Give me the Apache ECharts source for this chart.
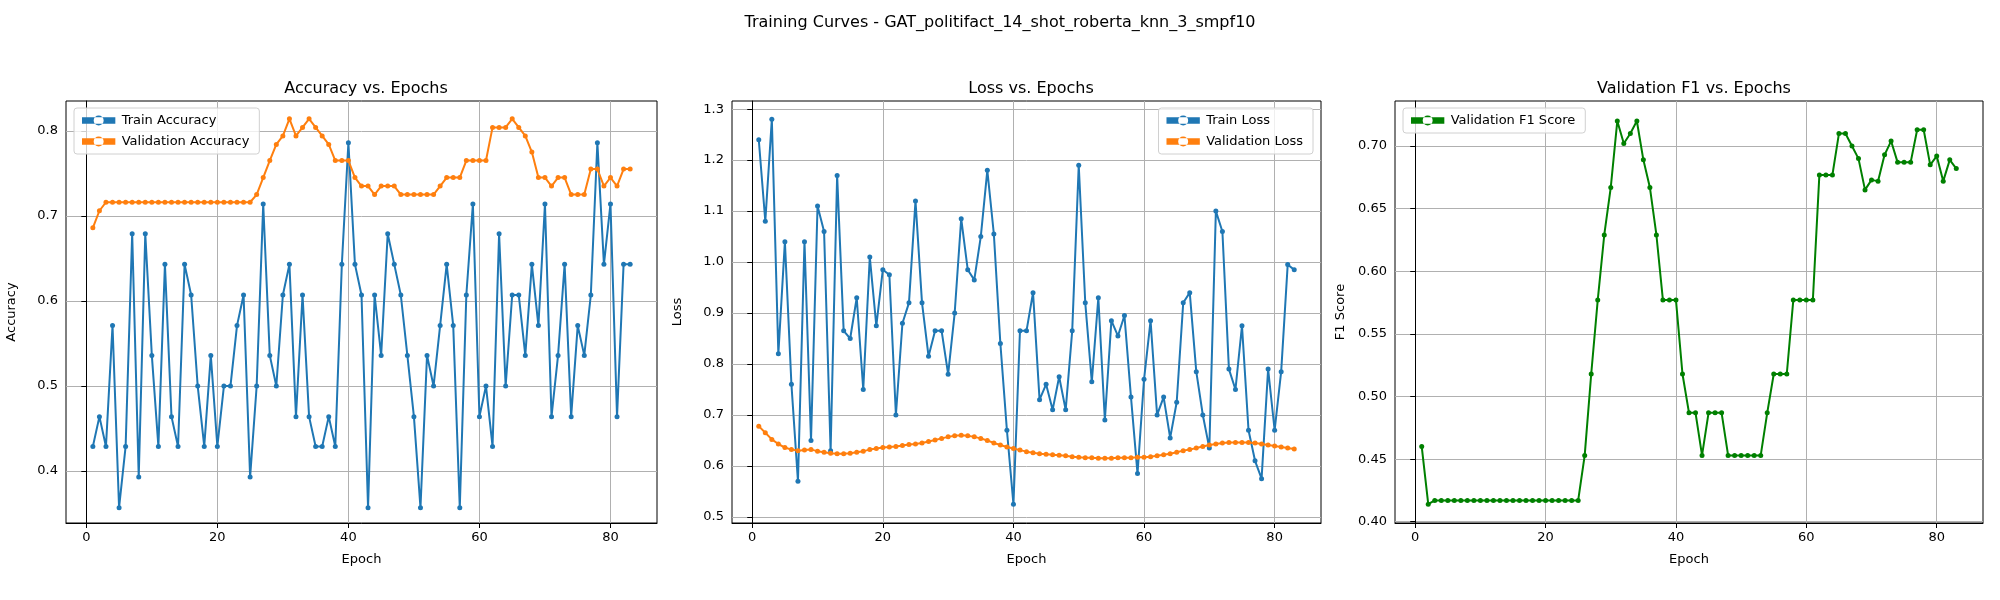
<!DOCTYPE html>
<html>
<head>
<meta charset="utf-8">
<script src="https://cdn.jsdelivr.net/npm/echarts@6/dist/echarts.min.js"></script>
<style>
  html, body { margin: 0; padding: 0; background: #fff; }
  #chart { width: 2000px; height: 600px; }
</style>
</head>
<body>
<div id="chart"></div>
<script>
const trainAcc = [0.429, 0.464, 0.429, 0.571, 0.357, 0.429, 0.679, 0.393, 0.679, 0.536,
  0.429, 0.643, 0.464, 0.429, 0.643, 0.607, 0.5, 0.429, 0.536, 0.429,
  0.5, 0.5, 0.571, 0.607, 0.393, 0.5, 0.714, 0.536, 0.5, 0.607,
  0.643, 0.464, 0.607, 0.464, 0.429, 0.429, 0.464, 0.429, 0.643, 0.786,
  0.643, 0.607, 0.357, 0.607, 0.536, 0.679, 0.643, 0.607, 0.536, 0.464,
  0.357, 0.536, 0.5, 0.571, 0.643, 0.571, 0.357, 0.607, 0.714, 0.464,
  0.5, 0.429, 0.679, 0.5, 0.607, 0.607, 0.536, 0.643, 0.571, 0.714,
  0.464, 0.536, 0.643, 0.464, 0.571, 0.536, 0.607, 0.786, 0.643, 0.714,
  0.464, 0.643, 0.643];
const valAcc = [0.686, 0.706, 0.716, 0.716, 0.716, 0.716, 0.716, 0.716, 0.716, 0.716,
  0.716, 0.716, 0.716, 0.716, 0.716, 0.716, 0.716, 0.716, 0.716, 0.716,
  0.716, 0.716, 0.716, 0.716, 0.716, 0.725, 0.745, 0.765, 0.784, 0.794,
  0.814, 0.794, 0.804, 0.814, 0.804, 0.794, 0.784, 0.765, 0.765, 0.765,
  0.745, 0.735, 0.735, 0.725, 0.735, 0.735, 0.735, 0.725, 0.725, 0.725,
  0.725, 0.725, 0.725, 0.735, 0.745, 0.745, 0.745, 0.765, 0.765, 0.765,
  0.765, 0.804, 0.804, 0.804, 0.814, 0.804, 0.794, 0.775, 0.745, 0.745,
  0.735, 0.745, 0.745, 0.725, 0.725, 0.725, 0.755, 0.755, 0.735, 0.745,
  0.735, 0.755, 0.755];
const trainLoss = [1.24, 1.08, 1.28, 0.82, 1.04, 0.76, 0.57, 1.04, 0.65, 1.11,
  1.06, 0.63, 1.17, 0.865, 0.85, 0.93, 0.75, 1.01, 0.875, 0.985,
  0.975, 0.70, 0.88, 0.92, 1.12, 0.92, 0.815, 0.865, 0.865, 0.78,
  0.90, 1.085, 0.985, 0.965, 1.05, 1.18, 1.055, 0.84, 0.67, 0.525,
  0.865, 0.865, 0.94, 0.73, 0.76, 0.71, 0.775, 0.71, 0.865, 1.19,
  0.92, 0.765, 0.93, 0.69, 0.885, 0.855, 0.895, 0.735, 0.585, 0.77,
  0.885, 0.70, 0.735, 0.655, 0.725, 0.92, 0.94, 0.785, 0.70, 0.635,
  1.10, 1.06, 0.79, 0.75, 0.875, 0.67, 0.61, 0.575, 0.79, 0.67,
  0.785, 0.995, 0.985];
const valLoss = [0.678, 0.665, 0.652, 0.643, 0.636, 0.632, 0.630, 0.631, 0.632, 0.629,
  0.627, 0.625, 0.624, 0.624, 0.625, 0.627, 0.629, 0.632, 0.634, 0.636,
  0.637, 0.638, 0.640, 0.642, 0.643, 0.645, 0.648, 0.651, 0.654, 0.657,
  0.659, 0.660, 0.659, 0.657, 0.654, 0.650, 0.645, 0.641, 0.637, 0.634,
  0.631, 0.628, 0.626, 0.624, 0.623, 0.622, 0.621, 0.620, 0.618, 0.617,
  0.616, 0.616, 0.615, 0.615, 0.615, 0.616, 0.616, 0.616, 0.617, 0.617,
  0.618, 0.620, 0.622, 0.624, 0.627, 0.630, 0.632, 0.635, 0.638, 0.641,
  0.643, 0.645, 0.646, 0.646, 0.646, 0.646, 0.645, 0.643, 0.641, 0.639,
  0.637, 0.635, 0.633];
const valF1 = [0.46, 0.414, 0.417, 0.417, 0.417, 0.417, 0.417, 0.417, 0.417, 0.417,
  0.417, 0.417, 0.417, 0.417, 0.417, 0.417, 0.417, 0.417, 0.417, 0.417,
  0.417, 0.417, 0.417, 0.417, 0.417, 0.453, 0.518, 0.577, 0.629, 0.667,
  0.72, 0.702, 0.71, 0.72, 0.689, 0.667, 0.629, 0.577, 0.577, 0.577,
  0.518, 0.487, 0.487, 0.453, 0.487, 0.487, 0.487, 0.453, 0.453, 0.453,
  0.453, 0.453, 0.453, 0.487, 0.518, 0.518, 0.518, 0.577, 0.577, 0.577,
  0.577, 0.677, 0.677, 0.677, 0.71, 0.71, 0.70, 0.69, 0.665, 0.673,
  0.672, 0.693, 0.704, 0.687, 0.687, 0.687, 0.713, 0.713, 0.685, 0.692,
  0.672, 0.689, 0.682];
const epochs = trainAcc.map((_, i) => i + 1);

const xTicks = [0, 20, 40, 60, 80];
const accTicks = [0.4, 0.5, 0.6, 0.7, 0.8];
const lossTicks = [0.5, 0.6, 0.7, 0.8, 0.9, 1.0, 1.1, 1.2, 1.3];
const f1Ticks = [0.40, 0.45, 0.50, 0.55, 0.60, 0.65, 0.70];

const font = 'DejaVu Sans';
const grids = [
  { left: 66, top: 101, width: 591, height: 422 },
  { left: 732, top: 101, width: 589, height: 422 },
  { left: 1395, top: 101, width: 588, height: 422 },
];

function xAxis(i) {
  return {
    type: 'value', gridIndex: i, min: -3.1, max: 87.1,
    name: 'Epoch', nameLocation: 'middle', nameGap: 30,
    nameTextStyle: { color: '#000', fontSize: 13, fontFamily: font },
    axisLine: { show: true, onZero: false, lineStyle: { color: '#000', width: 1 } },
    axisTick: { show: true, customValues: xTicks, length: 5, lineStyle: { color: '#000' } },
    axisLabel: { customValues: xTicks, color: '#000', fontSize: 13, fontFamily: font, margin: 8 },
    splitLine: { show: true, lineStyle: { color: '#b0b0b0', width: 1 } },
  };
}
function yAxis(i, min, max, ticks, name, digits) {
  return {
    type: 'value', gridIndex: i, min: min, max: max,
    name: name, nameLocation: 'middle', nameGap: 48,
    nameTextStyle: { color: '#000', fontSize: 13, fontFamily: font },
    axisLine: { show: true, lineStyle: { color: '#000', width: 1 } },
    axisTick: { show: true, customValues: ticks, length: 5, lineStyle: { color: '#000' } },
    axisLabel: { customValues: ticks, color: '#000', fontSize: 13, fontFamily: font,
      formatter: v => v.toFixed(digits) },
    splitLine: { show: true, lineStyle: { color: '#b0b0b0', width: 1 } },
  };
}
function line(name, data, color, i) {
  return {
    name: name, type: 'line', xAxisIndex: i, yAxisIndex: i,
    data: data.map((v, k) => [epochs[k], v]),
    symbol: 'circle', symbolSize: 5, showSymbol: true,
    lineStyle: { color: color, width: 2 }, itemStyle: { color: color },
    animation: false,
  };
}
function legend(names, pos) {
  return Object.assign({
    data: names.map(n => ({ name: n, icon: 'path://M0,4L10,4L10,6L0,6Z M3.5,5A1.5,1.5,0,1,0,6.5,5A1.5,1.5,0,1,0,3.5,5Z' })),
    orient: 'vertical', itemWidth: 36, itemHeight: 10, itemGap: 8,
    textStyle: { color: '#000', fontSize: 13, fontFamily: font },
    borderColor: '#d0d0d0', borderWidth: 1, borderRadius: 3, padding: [6, 10, 6, 8],
    backgroundColor: 'rgba(255,255,255,0.8)',
  }, pos);
}

const chart = echarts.init(document.getElementById('chart'));
chart.setOption({
  backgroundColor: '#fff',
  animation: false,
  title: [
    { text: 'Training Curves - GAT_politifact_14_shot_roberta_knn_3_smpf10', left: 'center', top: 10,
      textStyle: { fontSize: 16, fontWeight: 'normal', fontFamily: font, color: '#000' } },
    { text: 'Accuracy vs. Epochs', left: 361, top: 76, textAlign: 'center',
      textStyle: { fontSize: 16, fontWeight: 'normal', fontFamily: font, color: '#000' } },
    { text: 'Loss vs. Epochs', left: 1026, top: 76, textAlign: 'center',
      textStyle: { fontSize: 16, fontWeight: 'normal', fontFamily: font, color: '#000' } },
    { text: 'Validation F1 vs. Epochs', left: 1689, top: 76, textAlign: 'center',
      textStyle: { fontSize: 16, fontWeight: 'normal', fontFamily: font, color: '#000' } },
  ],
  legend: [
    legend(['Train Accuracy', 'Validation Accuracy'], { left: 74, top: 108 }),
    legend(['Train Loss', 'Validation Loss'], { right: 2000 - 1313, top: 108 }),
    legend(['Validation F1 Score'], { left: 1403, top: 108 }),
  ],
  grid: grids.map(g => Object.assign({ show: true, borderColor: '#000', borderWidth: 1 }, g)),
  xAxis: [xAxis(0), xAxis(1), xAxis(2)],
  yAxis: [
    yAxis(0, 0.339, 0.835, accTicks, 'Accuracy', 1),
    yAxis(1, 0.488, 1.316, lossTicks, 'Loss', 1),
    yAxis(2, 0.399, 0.736, f1Ticks, 'F1 Score', 2),
  ],
  series: [
    line('Train Accuracy', trainAcc, '#1f77b4', 0),
    line('Validation Accuracy', valAcc, '#ff7f0e', 0),
    line('Train Loss', trainLoss, '#1f77b4', 1),
    line('Validation Loss', valLoss, '#ff7f0e', 1),
    line('Validation F1 Score', valF1, '#008000', 2),
  ],
});
</script>
</body>
</html>
